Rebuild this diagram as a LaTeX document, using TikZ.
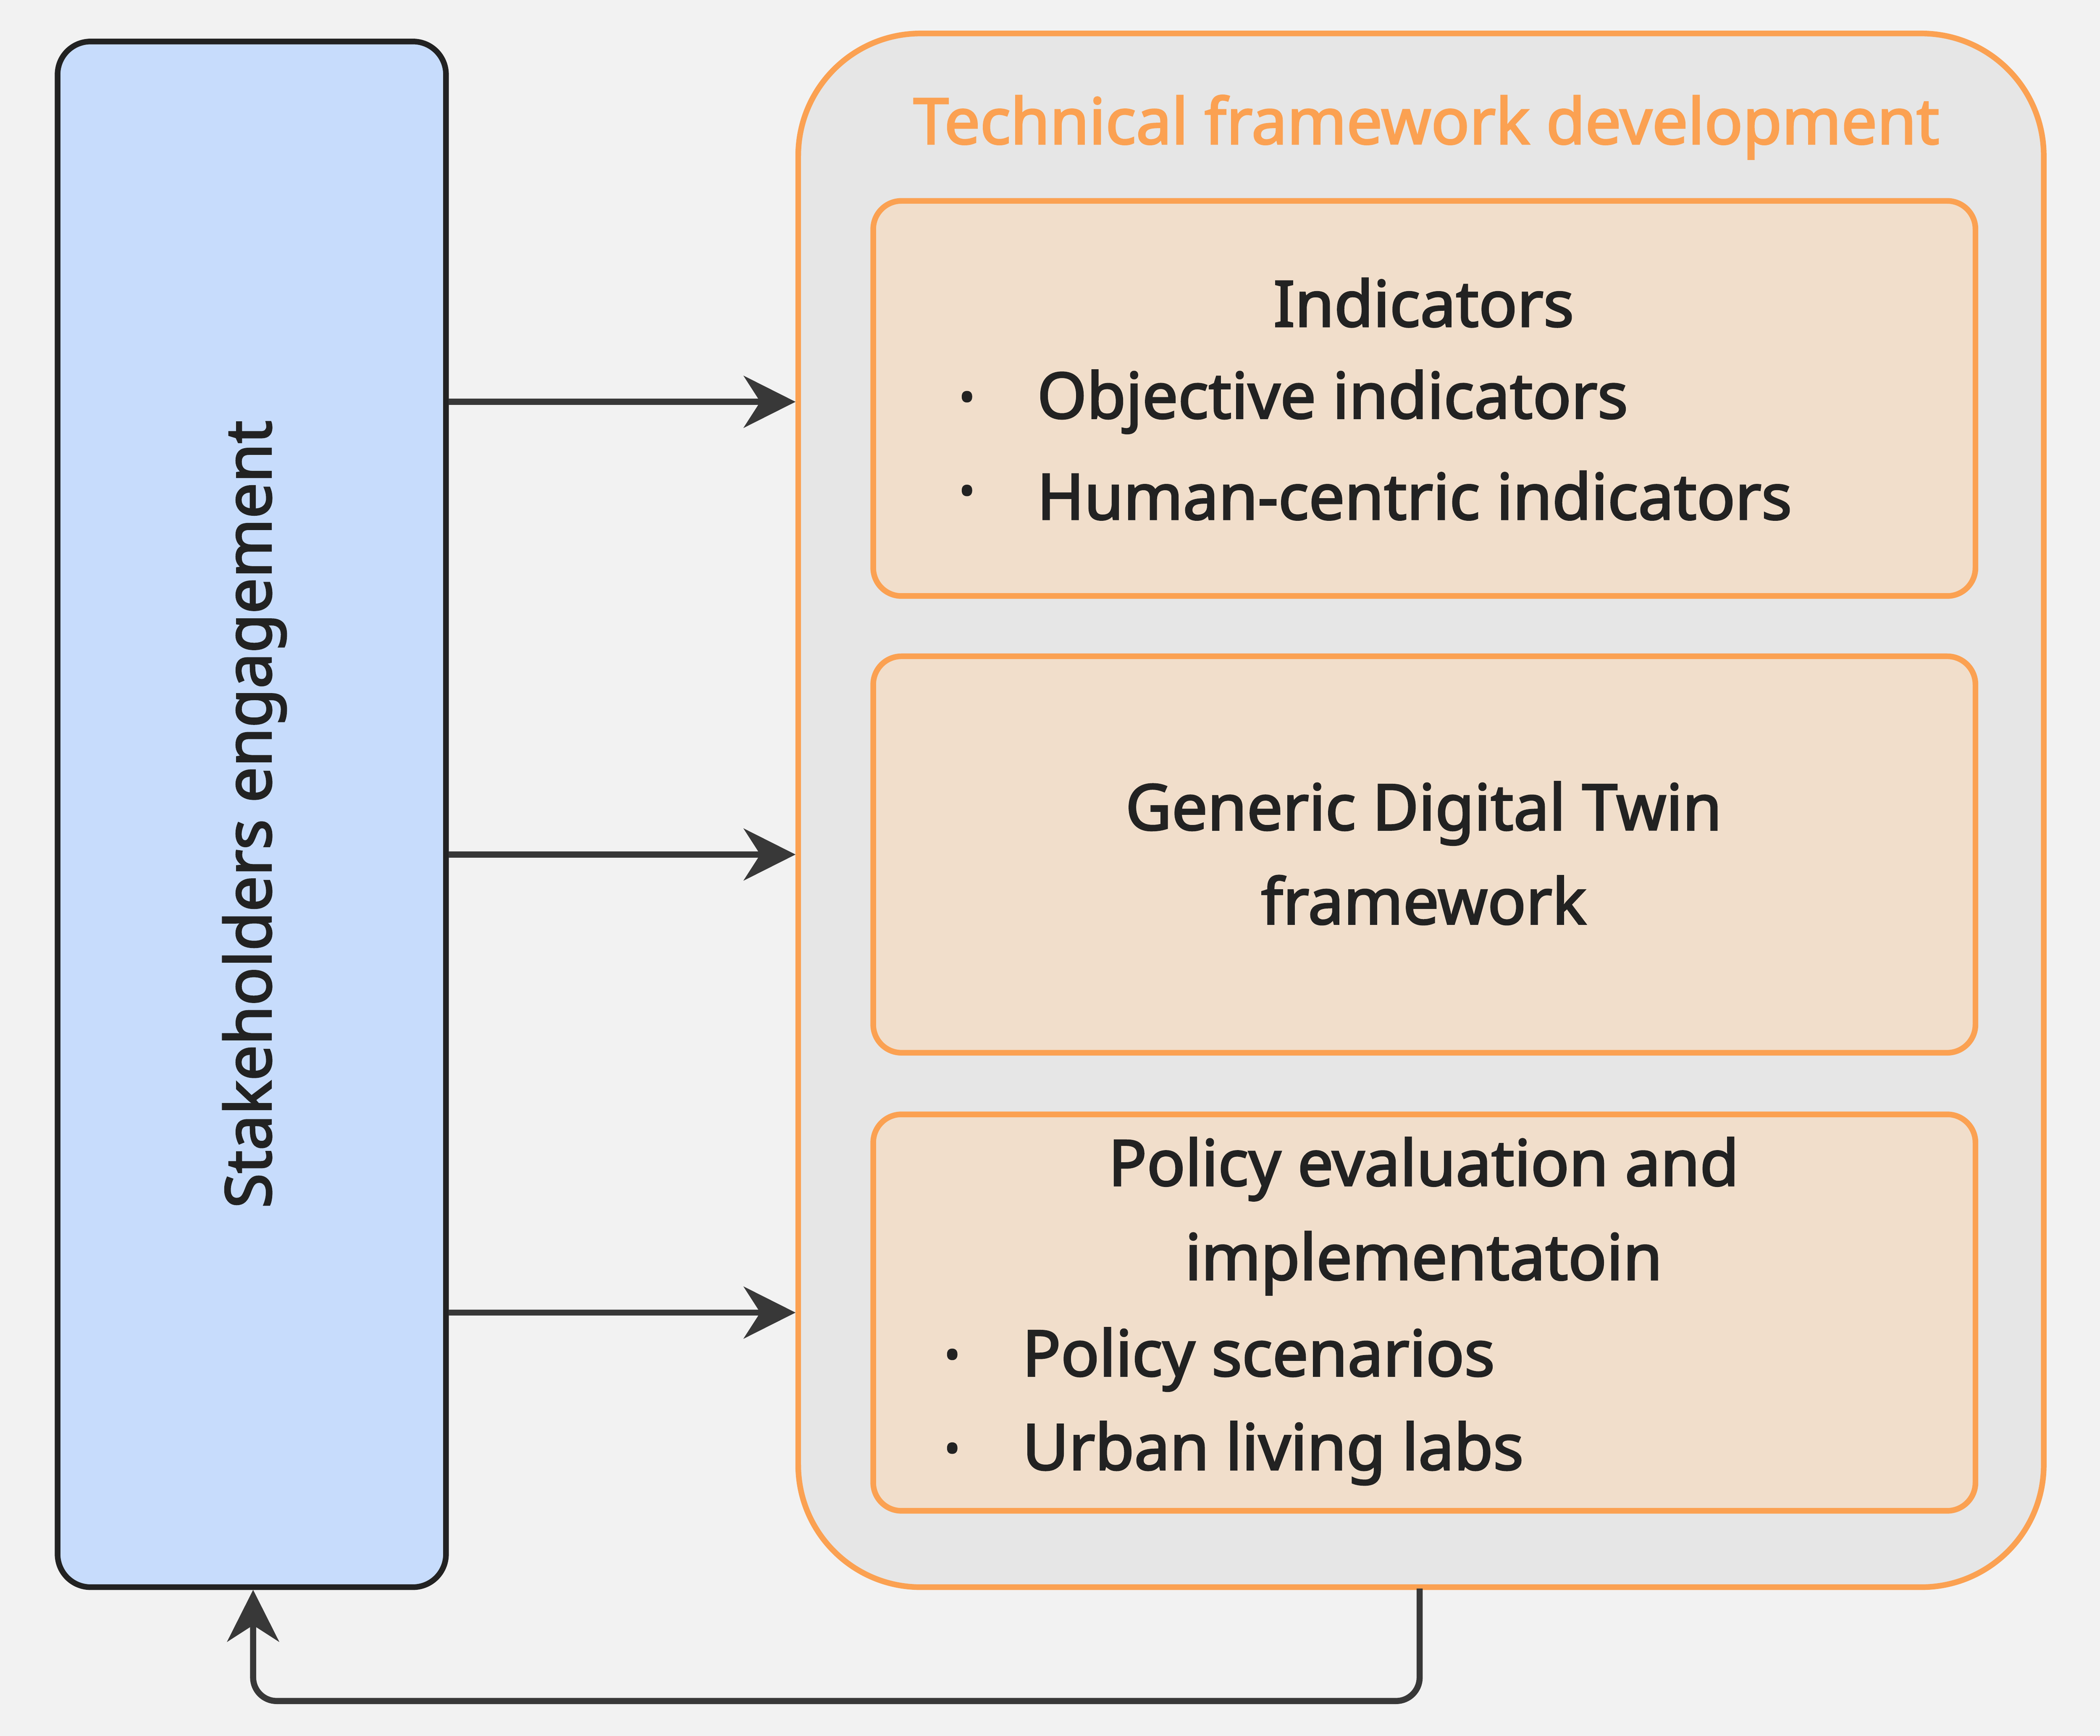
\documentclass[tikz,border=0pt]{standalone}
\usepackage{fontspec}
\setmainfont{Noto Sans}[BoldFont={Noto Sans}, BoldFeatures={FakeBold=2.5}]
\usetikzlibrary{arrows.meta}
\definecolor{bgc}{HTML}{F2F2F2}
\definecolor{bluefill}{HTML}{C7DCFC}
\definecolor{outerfill}{HTML}{E6E6E6}
\definecolor{orangeline}{HTML}{FBA152}
\definecolor{innerfill}{HTML}{F1DECB}
\definecolor{ink}{HTML}{222222}
\tikzset{
  box/.style={draw=orangeline, line width=1.2pt, fill=innerfill, rounded corners=6pt},
  txt/.style={font=\fontsize{13.5}{20}\selectfont\bfseries, text=ink},
  dot/.style={font=\fontsize{9}{10}\selectfont\bfseries, text=ink},
  link/.style={draw=ink!90, line width=1.3pt, -{Stealth[length=11pt,width=11pt,inset=3.5pt]}}
}
\begin{document}
\begin{tikzpicture}[x=0.1mm,y=-0.1mm]
\useasboundingbox[fill=bgc] (0,0) rectangle (1568,1296);
% left and outer frames
\draw[draw=ink, line width=1.2pt, fill=bluefill, rounded corners=7pt] (43,31) rectangle (333,1185);
\draw[draw=orangeline, line width=1.2pt, fill=outerfill, rounded corners=26pt] (596,25) rectangle (1526,1185);
\node[txt, rotate=90] (stake) at (190,608) {Stakeholders engagement};
\node[txt, text=orangeline] (title) at (1065,95) {Technical framework development};
% inner boxes
\draw[box] (652,150) rectangle (1475,445);
\draw[box] (652,490) rectangle (1475,786);
\draw[box] (652,832) rectangle (1475,1128);
\node[txt] (ind) at (1063,226) {Indicators};
\node[dot] (b1) at (722,300) {\textbullet};
\node[txt, anchor=west] (obj) at (762,300) {Objective indicators};
\node[dot] (b2) at (722,370) {\textbullet};
\node[txt, anchor=west] (hum) at (762,370) {Human-centric indicators};
\node[txt, align=center] (twin) at (1063,637) {Generic Digital Twin\\framework};
\node[txt, align=center] (pol) at (1063,908) {Policy evaluation and\\implementatoin};
\node[dot] (b3) at (711,1015) {\textbullet};
\node[txt, anchor=west] (scen) at (751,1015) {Policy scenarios};
\node[dot] (b4) at (711,1085) {\textbullet};
\node[txt, anchor=west] (labs) at (751,1085) {Urban living labs};
% connectors
\coordinate (s1) at (335,300); \coordinate (e1) at (594,300);
\coordinate (s2) at (335,638); \coordinate (e2) at (594,638);
\coordinate (s3) at (335,980); \coordinate (e3) at (594,980);
\coordinate (out) at (1060,1186); \coordinate (in) at (189,1187);
\draw[link] (s1) -- (e1);
\draw[link] (s2) -- (e2);
\draw[link] (s3) -- (e3);
\draw[link, rounded corners=5pt] (out) |- (600,1270) -| (in);
\end{tikzpicture}
\end{document}
